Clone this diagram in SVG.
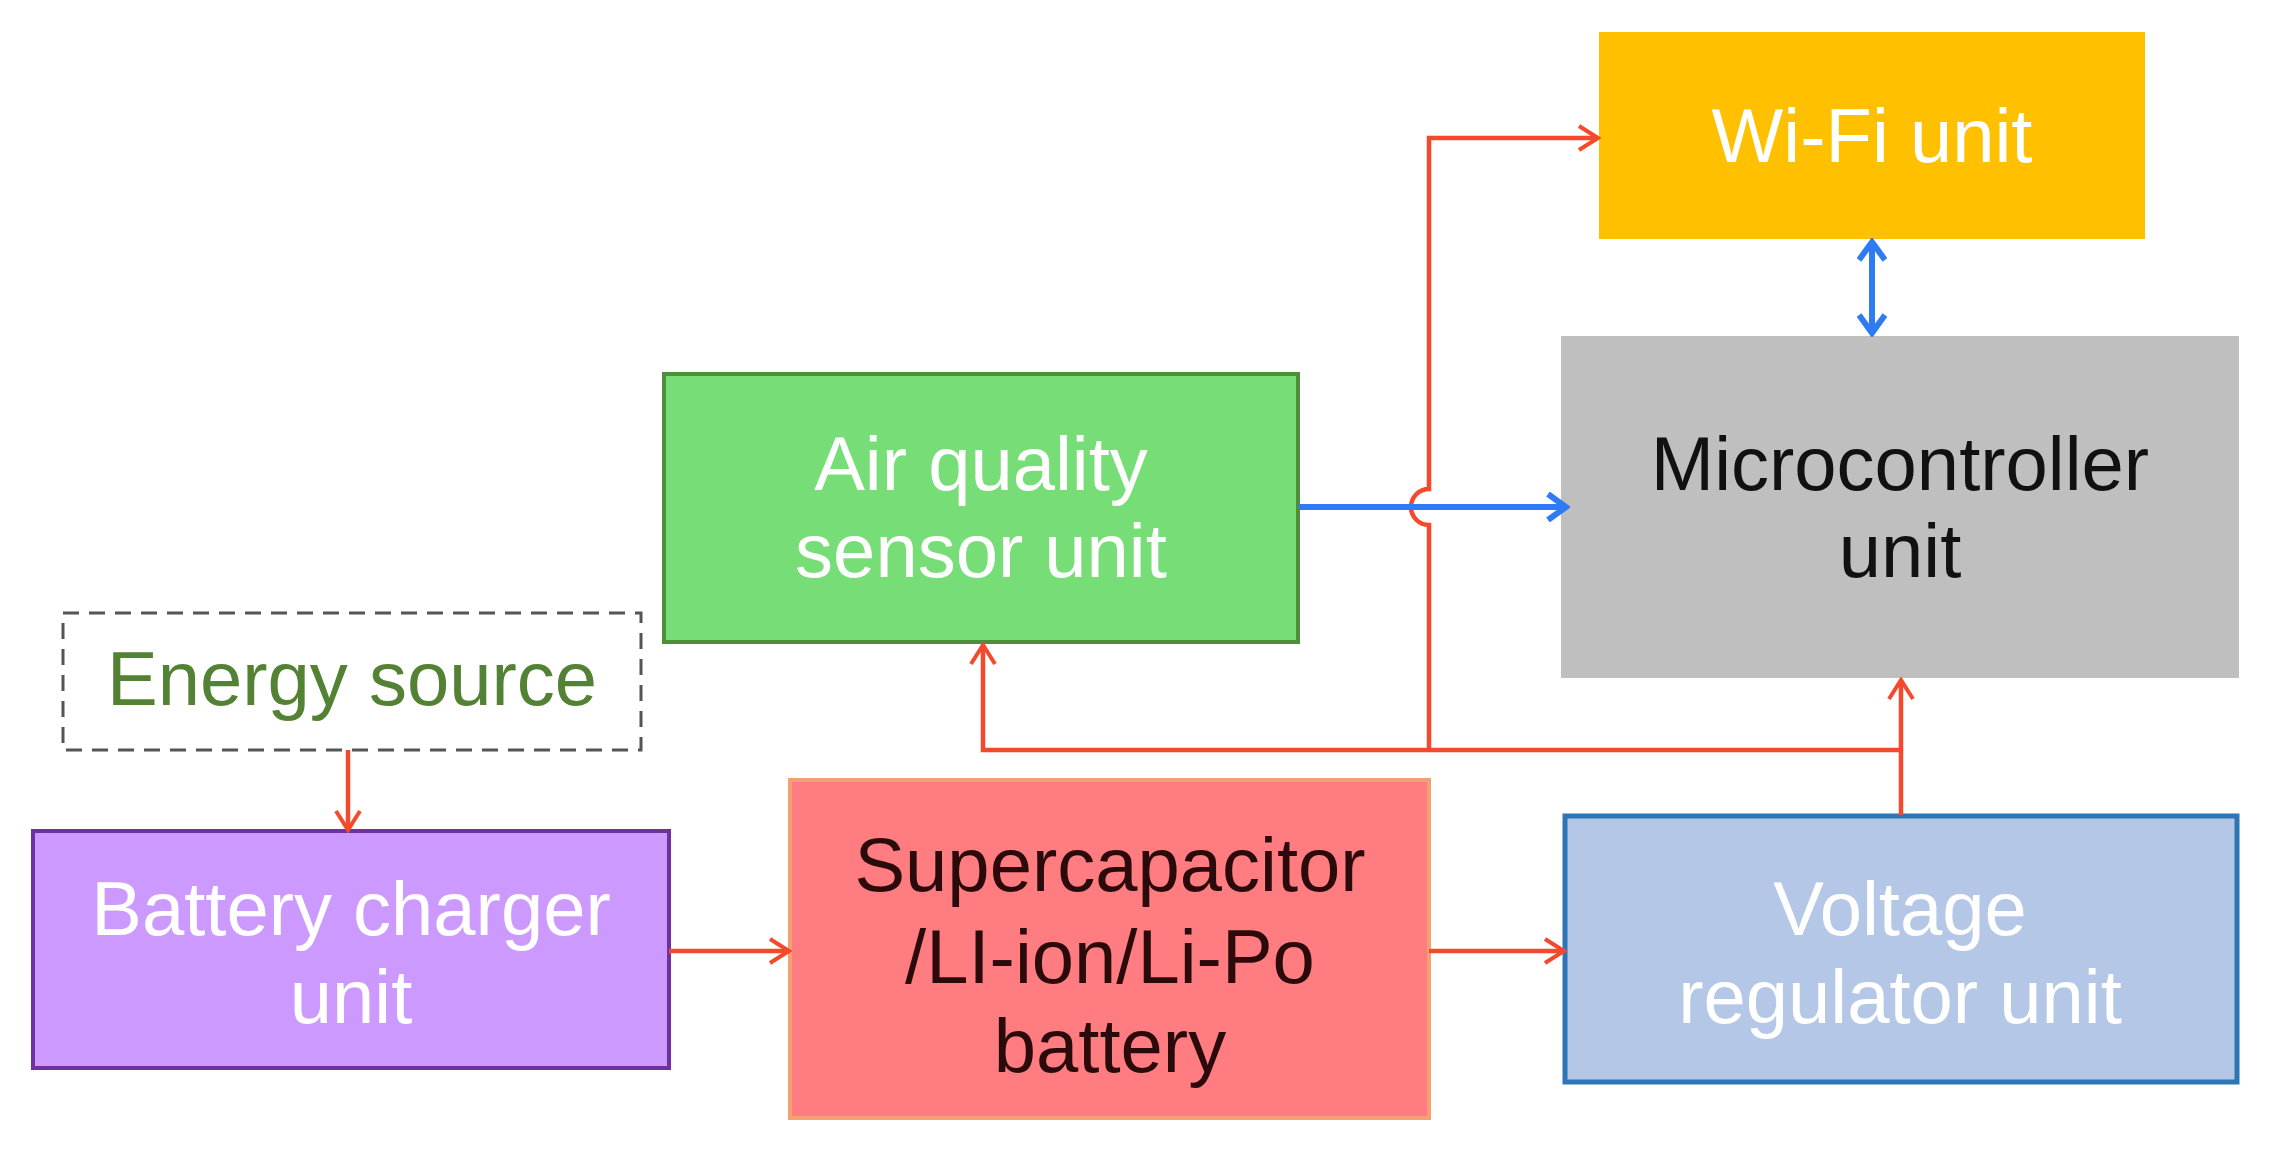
<svg xmlns="http://www.w3.org/2000/svg" width="2270" height="1153" viewBox="0 0 2270 1153">
<style>
text{font-family:"Liberation Sans",Arial,sans-serif;font-size:76px;text-anchor:middle}
.w{fill:#ffffff}
.r{fill:none;stroke:#F4492C;stroke-width:4.5}
.b{fill:none;stroke:#2F7BF5;stroke-width:6}
</style>
<defs>
<marker id="ar" viewBox="0 0 28 28" refX="25" refY="14" markerWidth="28" markerHeight="28" markerUnits="userSpaceOnUse" orient="auto-start-reverse"><path d="M6 2 L25 14 L6 26" fill="none" stroke="#F4492C" stroke-width="4"/></marker>
<marker id="ab" viewBox="0 0 30 30" refX="26" refY="15" markerWidth="30" markerHeight="30" markerUnits="userSpaceOnUse" orient="auto-start-reverse"><path d="M8 2 L26 15 L8 28" fill="none" stroke="#2F7BF5" stroke-width="6"/></marker>
</defs>
<rect width="2270" height="1153" fill="#fff"/>
<g id="wifi"><rect x="1599" y="32" width="546" height="207" fill="#FFC000"/><text class="w" x="1872" y="162">Wi-Fi unit</text></g>
<g id="micro"><rect x="1561" y="336" width="678" height="342" fill="#BFBFBF"/><text x="1900" y="490" fill="#111">Microcontroller</text><text x="1900" y="577" fill="#111">unit</text></g>
<g id="air"><rect x="664" y="374" width="634" height="268" fill="#77DD77" stroke="#4E8F3A" stroke-width="4"/><text class="w" x="981" y="490">Air quality</text><text class="w" x="981" y="577">sensor unit</text></g>
<g id="energy"><rect x="63" y="613" width="578" height="137" fill="#fff" stroke="#555" stroke-width="3" stroke-dasharray="16 10"/><text x="352" y="705" fill="#548235">Energy source</text></g>
<g id="charger"><rect x="33" y="831" width="636" height="237" fill="#CC99FF" stroke="#7030A0" stroke-width="4"/><text class="w" x="351" y="935">Battery charger</text><text class="w" x="351" y="1023">unit</text></g>
<g id="battery"><rect x="790" y="780" width="639" height="338" fill="#FF7C80" stroke="#F4A070" stroke-width="4"/><text x="1110" y="891" fill="#2a0a0a">Supercapacitor</text><text x="1110" y="983" fill="#2a0a0a">/LI-ion/Li-Po</text><text x="1110" y="1072" fill="#2a0a0a">battery</text></g>
<g id="regulator"><rect x="1565" y="816" width="672" height="266" fill="#B4C7E7" stroke="#2E75B6" stroke-width="5"/><text class="w" x="1900" y="935">Voltage</text><text class="w" x="1900" y="1023">regulator unit</text></g>
<g id="connectors">
<path class="r" d="M348 750 V830" marker-end="url(#ar)"/>
<path class="r" d="M669 951 H789" marker-end="url(#ar)"/>
<path class="r" d="M1429 951 H1564" marker-end="url(#ar)"/>
<path class="r" d="M1901 815 V680" marker-end="url(#ar)"/>
<path class="r" d="M1901 750 H983 V645" marker-end="url(#ar)"/>
<path class="r" d="M1429 750 V525 A18 18 0 0 1 1429 489 V138 H1598" marker-end="url(#ar)"/>
<path class="b" d="M1299 507 H1566" marker-end="url(#ab)"/>
<path class="b" d="M1872 242 V333" marker-start="url(#ab)" marker-end="url(#ab)"/>
</g>
</svg>
